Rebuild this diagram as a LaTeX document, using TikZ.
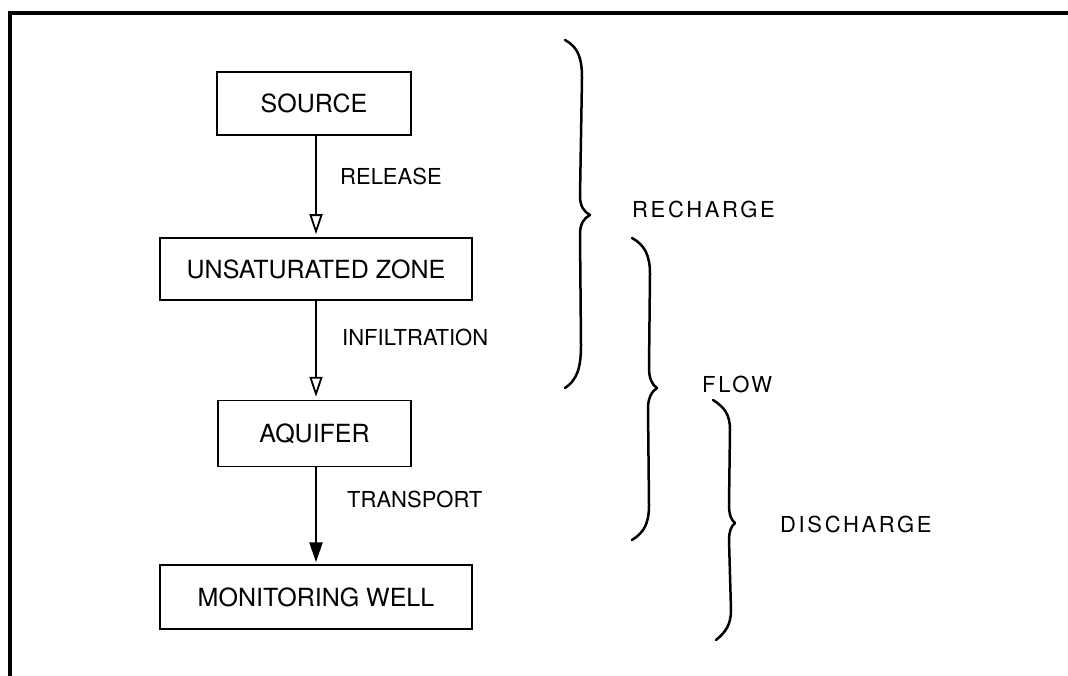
\documentclass[tikz,border=0pt]{standalone}
\usepackage{fontspec}
\setmainfont{TeX Gyre Heros}
\usetikzlibrary{arrows.meta}
\tikzset{
  boxnode/.style={draw, line width=1.5pt, inner sep=0pt, font=\fontsize{25}{29}\selectfont},
  lbl/.style={anchor=base west, inner sep=0pt, font=\fontsize{22}{26}\selectfont},
  rlbl/.style={anchor=base west, inner sep=0pt, font=\fontsize{22}{26}\selectfont\addfontfeature{LetterSpace=12}},
  flowarrow/.style={line width=2.4pt, shorten >=3pt, -{Triangle[open, length=20pt, width=13pt, line width=1.8pt]}},
  flowarrowfilled/.style={line width=2.4pt, shorten >=2pt, -{Triangle[length=20pt, width=13pt]}},
  bracepath/.style={line width=2.5pt, line cap=round, line join=round},
  frameline/.style={line width=3.4pt}
}
\begin{document}
\begin{tikzpicture}[x=1pt,y=-1pt]
\useasboundingbox (0,0) rectangle (1068,676);
% frame
\draw[frameline] (10,676) -- (10,13) -- (1068,13);
% boxes
\node[boxnode, minimum width=194pt, minimum height=63pt] (src) at (314,103.5) {SOURCE};
\node[boxnode, minimum width=312pt, minimum height=62pt] (uz) at (316,269) {UNSATURATED ZONE};
\node[boxnode, minimum width=193pt, minimum height=66pt] (aq) at (314.5,433.5) {AQUIFER};
\node[boxnode, minimum width=312pt, minimum height=64pt] (mw) at (316,597) {MONITORING WELL};
% connectors
\draw[flowarrow] (316,0 |- src.south) -- (316,0 |- uz.north);
\draw[flowarrow] (316,0 |- uz.south) -- (316,0 |- aq.north);
\draw[flowarrowfilled] (316,0 |- aq.south) -- (316,0 |- mw.north);
% connector labels
\node[lbl] (rel) at (340,185) {RELEASE};
\node[lbl] (inf) at (342,345) {INFILTRATION};
\node[lbl] (tra) at (347,507) {TRANSPORT};
% braces
\draw[bracepath] (565,40) .. controls (578,47) and (582,58) .. (582,78)
  -- (580,196) .. controls (580,206) and (584,212) .. (590,215)
  .. controls (584,218) and (580,224) .. (580,234)
  -- (581,345) .. controls (581,368) and (577,380) .. (565,388);
\draw[bracepath] (632,238) .. controls (645,245) and (650,256) .. (650,274)
  -- (649,368) .. controls (649,378) and (652,385) .. (657,388)
  .. controls (652,391) and (648,398) .. (648,408)
  -- (649,505) .. controls (649,525) and (643,533) .. (632,540);
\draw[bracepath] (713,400) .. controls (724,407) and (730,414) .. (730,430)
  -- (729,505) .. controls (729,514) and (731,520) .. (735,523)
  .. controls (731,526) and (729,532) .. (729,540)
  -- (731,610) .. controls (731,624) and (726,632) .. (716,640);
% brace labels
\node[rlbl] (rech) at (632,218) {RECHARGE};
\node[rlbl] (flow) at (702,392) {FLOW};
\node[rlbl] (disc) at (780,532) {DISCHARGE};
\end{tikzpicture}
\end{document}
